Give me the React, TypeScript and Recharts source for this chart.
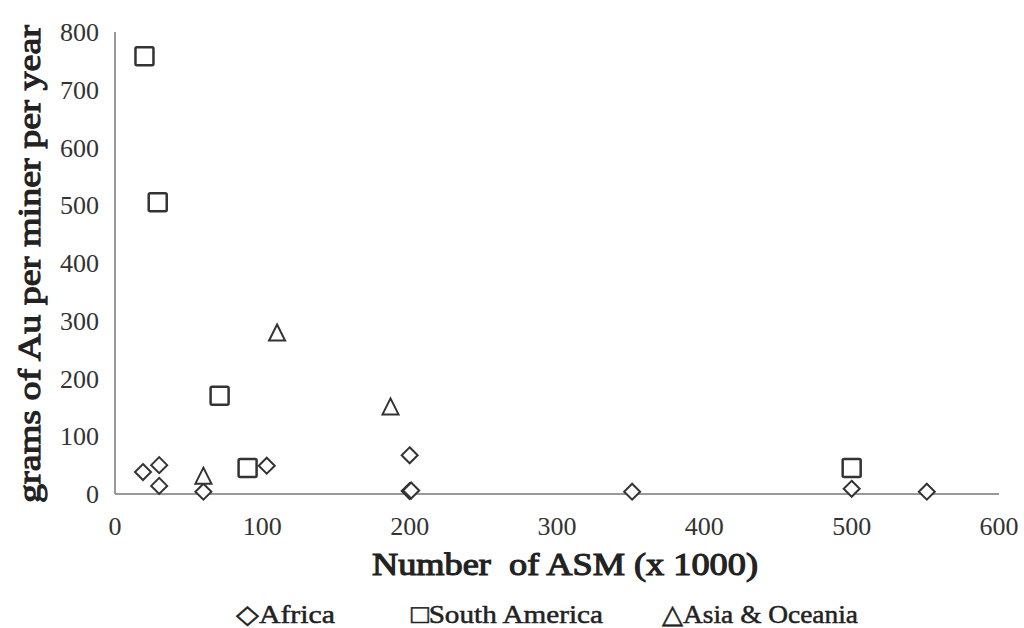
import { ScatterChart, Scatter, XAxis, YAxis } from 'recharts'

const africa = [
  { x: 19, y: 38 },
  { x: 30, y: 50 },
  { x: 30, y: 14 },
  { x: 60, y: 4 },
  { x: 103, y: 49 },
  { x: 200, y: 67 },
  { x: 200, y: 5 },
  { x: 201, y: 6 },
  { x: 351, y: 4 },
  { x: 500, y: 9 },
  { x: 551, y: 4 },
]

const southAmerica = [
  { x: 20, y: 758 },
  { x: 29, y: 505 },
  { x: 71, y: 170 },
  { x: 90, y: 45 },
  { x: 500, y: 45 },
]

const asiaOceania = [
  { x: 60, y: 30 },
  { x: 110, y: 278 },
  { x: 187, y: 150 },
]

const xTicks = [0, 100, 200, 300, 400, 500, 600]
const yTicks = [0, 100, 200, 300, 400, 500, 600, 700, 800]

const legendItems = [
  { label: '◇Africa', x: 236, w: 99 },
  { label: '□South America', x: 411, w: 192 },
  { label: '△Asia & Oceania', x: 662, w: 196 },
]

const INK = '#333'
const TEXT = '#222'
const FONT = 'Liberation Serif, Times New Roman, Tinos, serif'

const Diamond = (p: any) => (
  <path
    d={`M${p.cx},${p.cy - 8} L${p.cx + 8},${p.cy} L${p.cx},${p.cy + 8} L${p.cx - 8},${p.cy} Z`}
    fill="#fff"
    stroke={INK}
    strokeWidth={2}
  />
)

const Square = (p: any) => (
  <rect x={p.cx - 9} y={p.cy - 9} width={18} height={18} fill="#fff" stroke={INK} strokeWidth={2.5} rx={1.5} />
)

const Triangle = (p: any) => (
  <path
    d={`M${p.cx},${p.cy - 9} L${p.cx + 8},${p.cy + 7} L${p.cx - 8},${p.cy + 7} Z`}
    fill="#fff"
    stroke={INK}
    strokeWidth={2}
  />
)

export default function App() {
  return (
    <div style={{ position: 'absolute', left: 0, top: 0, width: 1024, height: 628, background: '#fff' }}>
      <ScatterChart width={1024} height={628} margin={{ top: 32, right: 25, bottom: 104, left: 0 }}>
        <XAxis
          type="number"
          dataKey="x"
          domain={[0, 600]}
          ticks={xTicks}
          height={30}
          tickLine={false}
          axisLine={{ stroke: '#999', strokeWidth: 2 }}
          tick={{ fill: INK, fontSize: 26, fontFamily: FONT }}
          tickMargin={17}
        />
        <YAxis
          type="number"
          dataKey="y"
          domain={[0, 800]}
          ticks={yTicks}
          width={115}
          tickLine={false}
          axisLine={{ stroke: '#999', strokeWidth: 2 }}
          tick={{ fill: INK, fontSize: 26, fontFamily: FONT }}
          tickMargin={10}
        />
        <Scatter data={africa} shape={Diamond} isAnimationActive={false} />
        <Scatter data={southAmerica} shape={Square} isAnimationActive={false} />
        <Scatter data={asiaOceania} shape={Triangle} isAnimationActive={false} />
      </ScatterChart>
      {/* titles and legend drawn as svg text so the serif face is used */}
      <svg width={1024} height={628} style={{ position: 'absolute', left: 0, top: 0, pointerEvents: 'none' }}>
        <text
          x={372}
          y={575}
          fontFamily={FONT}
          fontSize={31}
          fill={TEXT}
          stroke={TEXT}
          strokeWidth={1.1}
          textLength={386}
          lengthAdjust="spacingAndGlyphs"
        >
          {'Number\u00A0 of ASM (x 1000)'}
        </text>
        <text
          x={40}
          y={264}
          transform="rotate(-90, 40, 264)"
          textAnchor="middle"
          fontFamily={FONT}
          fontSize={32}
          fill={TEXT}
          stroke={TEXT}
          strokeWidth={1.1}
          textLength={478}
          lengthAdjust="spacingAndGlyphs"
        >
          grams of Au per miner per year
        </text>
        {legendItems.map((it) => (
          <text
            key={it.label}
            x={it.x}
            y={623}
            fontFamily={FONT}
            fontSize={26}
            fill={TEXT}
            stroke={TEXT}
            strokeWidth={0.5}
            textLength={it.w}
            lengthAdjust="spacingAndGlyphs"
          >
            {it.label}
          </text>
        ))}
      </svg>
    </div>
  )
}
